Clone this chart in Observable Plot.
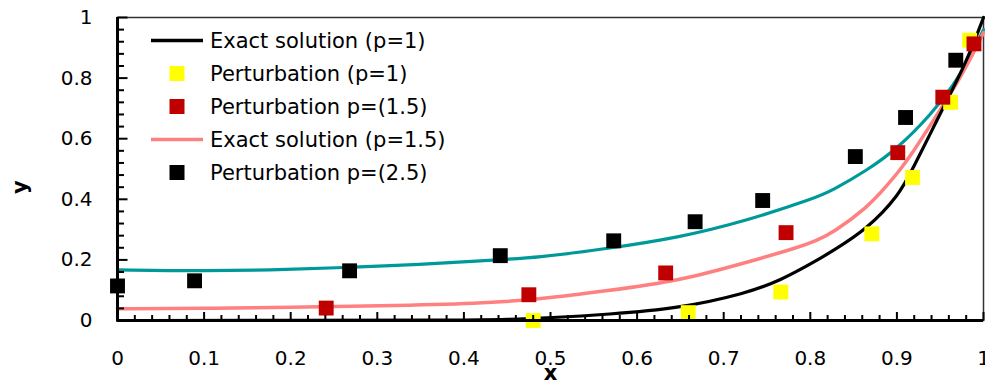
<!DOCTYPE html>
<html>
<head>
<meta charset="utf-8">
<script src="https://cdn.jsdelivr.net/npm/d3@7"></script>
<script src="https://cdn.jsdelivr.net/npm/@observablehq/plot@0.6"></script>
<style>
  html, body { margin: 0; padding: 0; background: #fff; }
  #chart { width: 985px; height: 388px; }
</style>
</head>
<body>
<div id="chart"></div>
<script>
// ---- data ----
const exact1X  = [0, 0.2, 0.4, 0.45, 0.5, 0.565, 0.649, 0.726, 0.765, 0.807, 0.826, 0.865, 0.903, 0.918, 0.941, 0.953, 0.98, 1.0];
const exact1Y  = [0, 0, 0.001, 0.003, 0.009, 0.02, 0.04, 0.09, 0.131, 0.197, 0.23, 0.3, 0.415, 0.5, 0.63, 0.7, 0.85, 1.0];

const exact15X = [0, 0.1, 0.2, 0.3, 0.419, 0.488, 0.565, 0.649, 0.726, 0.788, 0.807, 0.826, 0.865, 0.89, 0.903, 0.915, 0.941, 0.972, 0.992, 1.0];
const exact15Y = [0.039, 0.04, 0.043, 0.048, 0.056, 0.07, 0.098, 0.131, 0.191, 0.243, 0.263, 0.29, 0.37, 0.45, 0.495, 0.54, 0.655, 0.793, 0.903, 0.95];

const exact25X = [0, 0.1, 0.2, 0.27, 0.35, 0.419, 0.488, 0.565, 0.649, 0.726, 0.807, 0.826, 0.865, 0.9, 0.941, 0.965, 0.984, 1.0];
const exact25Y = [0.167, 0.163, 0.168, 0.176, 0.185, 0.197, 0.208, 0.237, 0.274, 0.329, 0.405, 0.43, 0.495, 0.565, 0.685, 0.775, 0.865, 0.96];

const pert1X  = [0.48, 0.659, 0.766, 0.871, 0.918, 0.962, 0.984];
const pert1Y  = [0.0, 0.026, 0.094, 0.286, 0.472, 0.72, 0.925];

const pert15X = [0.241, 0.475, 0.633, 0.772, 0.901, 0.953, 0.989];
const pert15Y = [0.041, 0.085, 0.157, 0.29, 0.554, 0.737, 0.913];

const pert25X = [0, 0.089, 0.268, 0.442, 0.573, 0.667, 0.745, 0.852, 0.910, 0.968];
const pert25Y = [0.114, 0.131, 0.164, 0.214, 0.263, 0.326, 0.396, 0.541, 0.67, 0.859];

const xTicks = [0, 0.1, 0.2, 0.3, 0.4, 0.5, 0.6, 0.7, 0.8, 0.9, 1];
const yTicks = [0, 0.2, 0.4, 0.6, 0.8, 1];
const legendLabels = ["Exact solution (p=1)", "Perturbation (p=1)", "Perturbation p=(1.5)", "Exact solution (p=1.5)", "Perturbation p=(2.5)"];
const legendKinds  = ["line", "square", "square", "line", "square"];
const xLabel = "x";
const yLabel = "y";

// ---- colours ----
const C_BLACK = "#000000", C_SALMON = "#ff8080", C_TEAL = "#009999", C_RED = "#c00000", C_YELLOW = "#ffff00";
const legendColors = [C_BLACK, C_YELLOW, C_RED, C_SALMON, C_BLACK];
const TICK = "#000000";

const zip = (xs, ys) => xs.map((x, i) => ({x, y: ys[i]}));
const FONT = "DejaVu Sans";

const W = 985, H = 388, ML = 117, MR = 2, MT = 17, MB = 68;
const PX = 1 / (W - ML - MR);
const PY = 1 / (H - MT - MB);

const xMinor = d3.range(0, 51).map(i => i / 50).filter(v => Math.abs(v * 10 - Math.round(v * 10)) > 1e-6);
const yMinor = d3.range(0, 26).map(i => i / 25).filter(v => Math.abs(v * 5 - Math.round(v * 5)) > 1e-6);
const fmt = d => String(+(+d).toFixed(1));
const R = 8.4;

function legendMark() {
  const g = d3.create("svg:g").attr("font-family", FONT).attr("font-size", 21).attr("text-anchor", "start");
  const x0 = ML, y0 = MT;
  legendLabels.forEach((lab, i) => {
    const cy = y0 + 23.5 + i * 33;
    if (legendKinds[i] === "line") {
      g.append("line").attr("x1", x0 + 34).attr("x2", x0 + 86).attr("y1", cy).attr("y2", cy)
        .attr("stroke", legendColors[i]).attr("stroke-width", 3.5);
    } else {
      g.append("rect").attr("x", x0 + 60 - 7.5).attr("y", cy - 7.5).attr("width", 15).attr("height", 15)
        .attr("fill", legendColors[i]);
    }
    g.append("text").attr("x", x0 + 93).attr("y", cy).attr("dy", "0.35em").attr("fill", "#000").text(lab);
  });
  return g.node();
}

const chart = Plot.plot({
  width: W,
  height: H,
  marginLeft: ML,
  marginRight: MR,
  marginTop: MT,
  marginBottom: MB,
  style: {fontFamily: FONT, fontSize: "20px", background: "#fff", color: "#000"},
  x: {domain: [0, 1], axis: null},
  y: {domain: [0, 1], axis: null},
  marks: [
    Plot.frame({stroke: "#333", strokeWidth: 1.5}),
    // curves
    Plot.line(zip(exact25X, exact25Y), {x: "x", y: "y", stroke: C_TEAL, strokeWidth: 3.2, curve: "basis"}),
    Plot.line(zip(exact15X, exact15Y), {x: "x", y: "y", stroke: C_SALMON, strokeWidth: 3.5, curve: "basis"}),
    Plot.line(zip(exact1X, exact1Y), {x: "x", y: "y", stroke: C_BLACK, strokeWidth: 3.2, curve: "basis"}),
    // points
    Plot.dot(zip(pert1X, pert1Y), {x: "x", y: "y", symbol: "square", r: R, fill: C_YELLOW, stroke: "none"}),
    Plot.dot(zip(pert15X, pert15Y), {x: "x", y: "y", symbol: "square", r: R, fill: C_RED, stroke: "none"}),
    Plot.dot(zip(pert25X, pert25Y), {x: "x", y: "y", symbol: "square", r: R, fill: C_BLACK, stroke: "none"}),
    // inward ticks
    Plot.link(yTicks, {y1: d => d, y2: d => d, x1: () => 0, x2: () => 10 * PX, stroke: TICK, strokeWidth: 2}),
    Plot.link(yMinor, {y1: d => d, y2: d => d, x1: () => 0, x2: () => 6.5 * PX, stroke: TICK, strokeWidth: 2}),
    Plot.link(xTicks, {x1: d => d, x2: d => d, y1: () => 0, y2: () => 8.5 * PY, stroke: TICK, strokeWidth: 2}),
    Plot.link(xMinor, {x1: d => d, x2: d => d, y1: () => 0, y2: () => 5.5 * PY, stroke: TICK, strokeWidth: 2}),
    // axis lines
    Plot.ruleX([0], {stroke: "#000", strokeWidth: 3}),
    Plot.ruleY([0], {stroke: "#000", strokeWidth: 3}),
    // tick labels
    Plot.axisY(yTicks, {tickSize: 0, tickPadding: 25, tickFormat: fmt, fontSize: 20, label: null}),
    Plot.axisX(xTicks, {tickSize: 0, tickPadding: 30, tickFormat: fmt, fontSize: 20, label: null}),
    // axis titles
    Plot.text([yLabel], {text: d => d, frameAnchor: "left", dx: -97, dy: 25, rotate: -90, fontSize: 21, fontWeight: "bold"}),
    Plot.text([xLabel], {text: d => d, frameAnchor: "bottom", dx: 0, dy: 59, fontSize: 21, fontWeight: "bold"}),
    legendMark
  ]
});
document.getElementById("chart").appendChild(chart);
</script>
</body>
</html>
